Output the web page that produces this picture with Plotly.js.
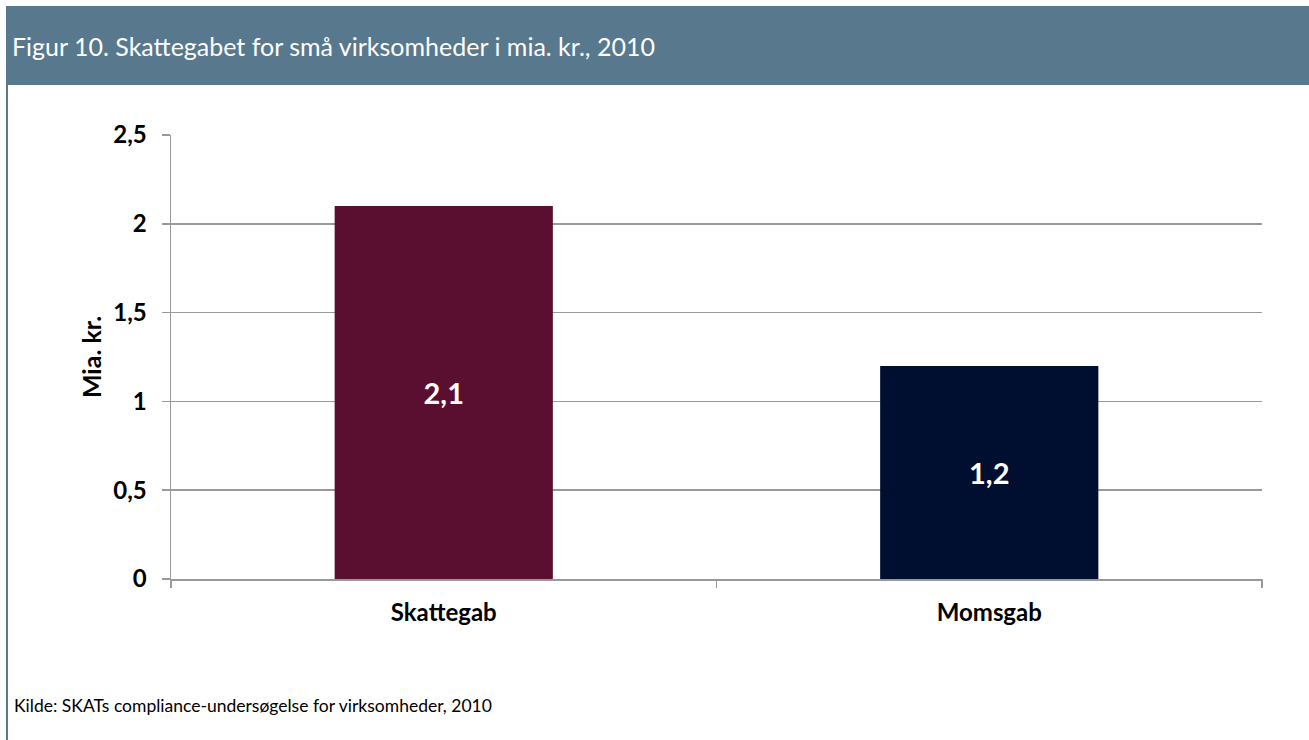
<!DOCTYPE html>
<html>
<head>
<meta charset="utf-8">
<script src="https://cdn.plot.ly/plotly-3.0.1.min.js"></script>
<style>html,body{margin:0;padding:0;background:#fff;}#chart{width:1309px;height:740px;}</style>
</head>
<body>
<div id="chart"></div>
<script>
const categories = ["Skattegab", "Momsgab"];
const values = [2.1, 1.2];
const barColors = ["#5a0e30", "#000f30"];
const titleText = "Figur 10. Skattegabet for små virksomheder i mia. kr., 2010";
const yTitle = "Mia. kr.";
const sourceText = "Kilde: SKATs compliance-undersøgelse for virksomheder, 2010";

const W = 1309, H = 740;
const L = 171, R = 47, T = 135, B = 161;
const pw = W - L - R, ph = H - T - B;
const px = x => (x - L) / pw;
const py = y => (H - B - y) / ph;
const headerColor = "#58788e";
const font = "Lato, 'Open Sans', sans-serif";

const trace = {
  type: "bar",
  x: categories,
  y: values,
  marker: {color: barColors},
  texttemplate: "%{y:.1f}",
  textposition: "inside",
  insidetextanchor: "middle",
  textfont: {family: font, size: 29, color: "#ffffff", weight: "bold"},
  hoverinfo: "none",
  cliponaxis: false
};

const layout = {
  width: W, height: H,
  margin: {l: L, r: R, t: T, b: B},
  paper_bgcolor: "#ffffff",
  plot_bgcolor: "#ffffff",
  separators: ",.",
  bargap: 0.6,
  showlegend: false,
  font: {family: font, color: "#000000"},
  title: {
    text: titleText,
    font: {family: font, size: 25, color: "#ffffff"},
    xref: "container", yref: "container",
    x: 12 / W, xanchor: "left",
    y: 1 - 47 / H, yanchor: "middle"
  },
  xaxis: {
    type: "category",
    showline: true, linecolor: "#999999", linewidth: 1.5,
    ticks: "outside", tickson: "boundaries", ticklen: 7, tickcolor: "#999999", tickwidth: 1.5,
    tickfont: {family: font, size: 24, weight: "bold", color: "#000000"},
    showgrid: false,
    ticklabelstandoff: 12
  },
  yaxis: {
    range: [0, 2.5],
    dtick: 0.5,
    tick0: 0,
    showline: true, linecolor: "#999999", linewidth: 1.5,
    ticks: "outside", ticklen: 8, tickcolor: "#999999", tickwidth: 1.5,
    showgrid: true, gridcolor: "#999999", gridwidth: 1.5,
    zeroline: false,
    tickfont: {family: font, size: 24, weight: "bold", color: "#000000"},
    title: {text: yTitle, font: {family: font, size: 25, weight: "bold", color: "#000000"}, standoff: 4},
    ticklabelstandoff: 10
  },
  shapes: [
    {type: "rect", xref: "paper", yref: "paper",
     x0: px(6), x1: px(1309), y0: py(85), y1: py(6),
     fillcolor: headerColor, line: {width: 0}, layer: "below"},
    {type: "line", xref: "paper", yref: "paper",
     x0: px(7), x1: px(7), y0: py(85), y1: py(740),
     line: {color: headerColor, width: 2}},
    {type: "line", xref: "paper", yref: "paper",
     x0: px(1262), x1: px(1262), y0: py(579), y1: py(586),
     line: {color: "#999999", width: 1.5}}
  ],
  annotations: [
    {text: sourceText, xref: "paper", yref: "paper",
     x: px(12), y: py(705), xanchor: "left", yanchor: "middle",
     showarrow: false, font: {family: font, size: 17.5, color: "#000000"}}
  ]
};

Plotly.newPlot("chart", [trace], layout, {displayModeBar: false, staticPlot: true});
</script>
</body>
</html>
